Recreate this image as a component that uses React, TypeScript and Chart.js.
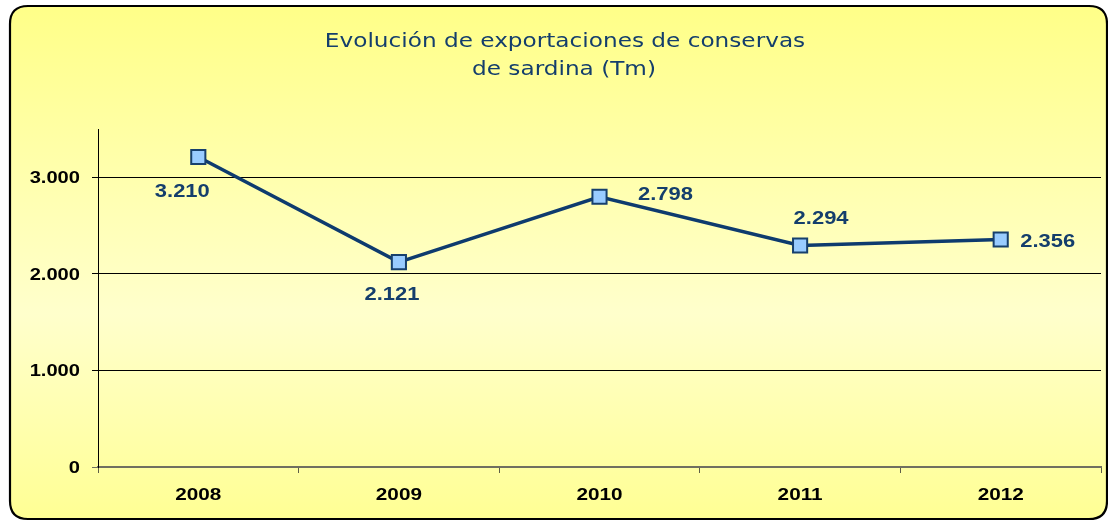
import React, { useEffect, useRef } from "react";
import { Chart, registerables } from "chart.js";

Chart.register(...registerables);

const titleLines = ["Evolución de exportaciones de conservas", "de sardina (Tm)"];
const years = ["2008", "2009", "2010", "2011", "2012"];
const exports = [3210, 2121, 2798, 2294, 2356];
const yTickValues = [0, 1000, 2000, 3000];
const valueLabels = ["3.210", "2.121", "2.798", "2.294", "2.356"];
// label offsets relative to each marker (style only)
const labelOffsets = [
  [-16, 33],
  [-7, 31],
  [66, -3],
  [21, -28],
  [47, 1],
];

const NAVY = "#143E6C";
const STRETCH = 1.22;

function fmt(v: number): string {
  return String(v).replace(/\B(?=(\d{3})+(?!\d))/g, ".");
}

function drawText(
  ctx: CanvasRenderingContext2D,
  text: string,
  x: number,
  y: number,
  font: string,
  color: string,
  align: CanvasTextAlign
) {
  ctx.save();
  ctx.font = font;
  ctx.fillStyle = color;
  ctx.textAlign = align;
  ctx.textBaseline = "alphabetic";
  ctx.translate(x, y);
  ctx.scale(STRETCH, 1);
  ctx.fillText(text, 0, 0);
  ctx.restore();
}

const framePlugin = {
  id: "frame",
  beforeDraw(chart: any) {
    const ctx = chart.ctx as CanvasRenderingContext2D;
    const W = chart.width;
    const H = chart.height;
    ctx.save();
    ctx.fillStyle = "#ffffff";
    ctx.fillRect(0, 0, W, H);
    const x = 10, y = 6, w = 1097, h = 513, r = 18;
    const g = ctx.createLinearGradient(0, y, 0, y + h);
    g.addColorStop(0, "#FFFF88");
    g.addColorStop(0.6, "#FFFFCC");
    g.addColorStop(1, "#FFFF94");
    ctx.beginPath();
    ctx.moveTo(x + r, y);
    ctx.lineTo(x + w - r, y);
    ctx.quadraticCurveTo(x + w, y, x + w, y + r);
    ctx.lineTo(x + w, y + h - r);
    ctx.quadraticCurveTo(x + w, y + h, x + w - r, y + h);
    ctx.lineTo(x + r, y + h);
    ctx.quadraticCurveTo(x, y + h, x, y + h - r);
    ctx.lineTo(x, y + r);
    ctx.quadraticCurveTo(x, y, x + r, y);
    ctx.closePath();
    ctx.fillStyle = g;
    ctx.fill();
    ctx.lineWidth = 2.2;
    ctx.strokeStyle = "#000000";
    ctx.stroke();
    ctx.restore();

    const tf = "19px 'DejaVu Sans'";
    drawText(ctx, titleLines[0], 565, 47, tf, NAVY, "center");
    drawText(ctx, titleLines[1], 564, 75, tf, NAVY, "center");
  },
  afterDraw(chart: any) {
    const ctx = chart.ctx as CanvasRenderingContext2D;
    const xs = chart.scales.x;
    const ys = chart.scales.y;
    const tickFont = "bold 16.5px 'Liberation Sans'";
    yTickValues.forEach((v) => {
      const py = ys.getPixelForValue(v);
      drawText(ctx, fmt(v), 80, py + 6, tickFont, "#000000", "right");
    });
    const xFont = "bold 17px 'Liberation Sans'";
    years.forEach((lab, i) => {
      const px = xs.getPixelForValue(i);
      drawText(ctx, lab, px, 500, xFont, "#000000", "center");
    });
  },
  afterDatasetsDraw(chart: any) {
    const ctx = chart.ctx as CanvasRenderingContext2D;
    const meta = chart.getDatasetMeta(0);
    const f = "bold 18px 'Liberation Sans'";
    meta.data.forEach((pt: any, i: number) => {
      const [dx, dy] = labelOffsets[i];
      drawText(ctx, valueLabels[i], pt.x + dx, pt.y + dy + 6.5, f, NAVY, "center");
    });
  },
};

export default function App() {
  const ref = useRef<HTMLCanvasElement | null>(null);
  useEffect(() => {
    if (!ref.current) return;
    const chart = new Chart(ref.current, {
      type: "line",
      data: {
        labels: years,
        datasets: [
          {
            data: exports,
            borderColor: "#0E3B6E",
            borderWidth: 3.5,
            tension: 0,
            fill: false,
            pointStyle: "rect",
            pointRadius: 10,
            pointHoverRadius: 10,
            pointBackgroundColor: "#99CCFF",
            pointBorderColor: "#17406D",
            pointBorderWidth: 2,
          },
        ],
      },
      options: {
        responsive: false,
        animation: false,
        events: [],
        layout: { autoPadding: false, padding: { left: 10, right: 7, top: 129, bottom: 0 } },
        plugins: {
          legend: { display: false },
          tooltip: { enabled: false },
          title: { display: false },
        },
        scales: {
          x: {
            type: "category",
            offset: true,
            afterFit: (s: any) => {
              s.height = 54;
            },
            grid: {
              display: true,
              drawOnChartArea: false,
              drawTicks: true,
              tickLength: 6,
              offset: true,
              color: "#5E5E48",
              lineWidth: 1,
            },
            border: { display: true, color: "#707060", width: 2 },
            ticks: { display: false },
          },
          y: {
            min: 0,
            max: 3500,
            afterFit: (s: any) => {
              s.width = 88;
            },
            afterBuildTicks: (s: any) => {
              s.ticks = yTickValues.map((v) => ({ value: v }));
            },
            grid: {
              drawTicks: true,
              tickLength: 6,
              color: (c: any) => (c.tick && c.tick.value === 0 ? "#707060" : "#000000"),
              lineWidth: 1,
            },
            border: { display: true, color: "#000000", width: 1 },
            ticks: { display: false },
          },
        },
      } as any,
      plugins: [framePlugin],
    });
    return () => chart.destroy();
  }, []);
  return (
    <div style={{ position: "absolute", left: 0, top: 0, width: 1108, height: 521 }}>
      <canvas ref={ref} width={1108} height={521} style={{ display: "block" }} />
    </div>
  );
}
